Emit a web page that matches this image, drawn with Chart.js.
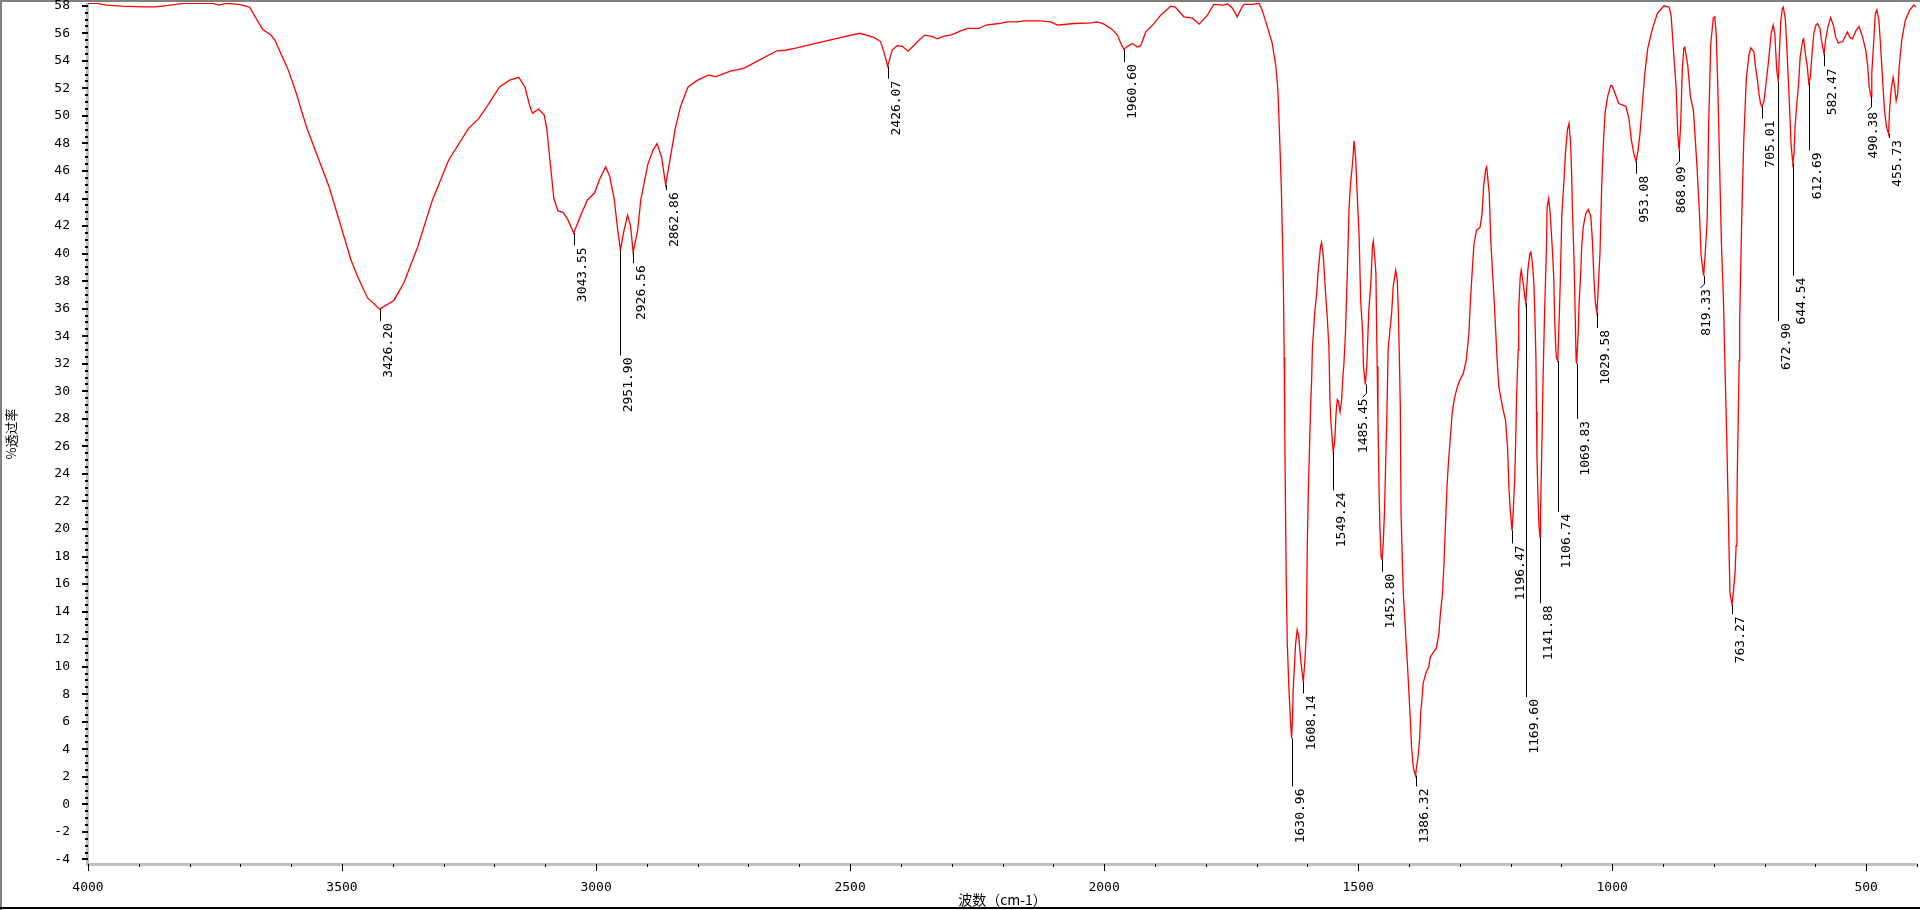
<!DOCTYPE html>
<html>
<head>
<meta charset="utf-8">
<title>IR</title>
<script src="https://cdn.jsdelivr.net/npm/chart.js@4.4.1/dist/chart.umd.min.js"></script>
<style>
html, body { margin: 0; padding: 0; background: #fff; }
#wrap { position: relative; width: 1920px; height: 910px; }
</style>
</head>
<body>
<div id="wrap"><canvas id="ir"></canvas></div>
<script>
// spectrum (cm-1 / %T)
var wavenumbers = [
    4000, 3982, 3964, 3933, 3893, 3868, 3833, 3813, 3753, 3743, 3728, 3703,
    3682, 3667, 3656, 3640, 3632, 3622, 3607, 3592, 3580, 3569, 3525, 3482,
    3469, 3450, 3426, 3398, 3378, 3351, 3322, 3290, 3251, 3231, 3211, 3190,
    3170, 3152, 3140, 3130, 3125, 3113, 3102, 3097, 3090, 3083, 3075, 3065,
    3056, 3044, 3030, 3017, 3003, 2993, 2981, 2973, 2964, 2958, 2952, 2946,
    2938, 2932, 2927, 2918, 2912, 2898, 2888, 2880, 2871, 2863, 2856, 2844,
    2834, 2819, 2800, 2779, 2764, 2734, 2709, 2679, 2644, 2628, 2609, 2568,
    2528, 2481, 2453, 2440, 2433, 2426, 2423, 2417, 2407, 2397, 2386, 2374,
    2361, 2353, 2338, 2328, 2315, 2302, 2282, 2269, 2246, 2233, 2207, 2190,
    2171, 2158, 2125, 2105, 2092, 2079, 2059, 2026, 2013, 2000, 1984, 1974,
    1967, 1961, 1954, 1944, 1935, 1928, 1918, 1902, 1889, 1869, 1860, 1843,
    1826, 1813, 1797, 1784, 1764, 1757, 1747, 1738, 1730, 1725, 1708, 1695,
    1689, 1679, 1669, 1662, 1658, 1655, 1651, 1649, 1647, 1645.5, 1644.5, 1643,
    1641.5, 1639.5, 1636, 1633, 1631, 1629, 1628, 1625, 1623, 1620, 1617, 1612.5,
    1608, 1605, 1602, 1600, 1598, 1595.5, 1593.5, 1591.5, 1590, 1588, 1585.5, 1581.5,
    1579, 1574, 1572, 1568.5, 1564, 1560.5, 1557.5, 1555.5, 1553.5, 1549, 1546, 1543.5,
    1541, 1539, 1535.5, 1532.5, 1530.5, 1528, 1525, 1521, 1518, 1515, 1511, 1508,
    1505, 1501, 1498, 1495, 1491, 1489.5, 1486, 1483, 1479, 1475, 1472, 1470,
    1468, 1465, 1464, 1462.5, 1461, 1459, 1457, 1454.5, 1452.8, 1450.5, 1448, 1446,
    1444, 1442.5, 1441, 1438, 1434, 1431, 1426, 1423, 1421, 1419, 1417, 1415.5,
    1413, 1411, 1408, 1405.5, 1403, 1401, 1399, 1397, 1395, 1391, 1387, 1385,
    1382, 1379, 1377, 1374, 1372, 1367, 1361, 1358, 1351, 1346, 1341, 1338,
    1334, 1331, 1328, 1325, 1322, 1318, 1315, 1311, 1305, 1300, 1293, 1287,
    1282, 1279, 1275, 1272, 1267, 1260, 1256, 1253, 1249, 1247, 1242, 1239,
    1236, 1233, 1229, 1226, 1223, 1216, 1213, 1210, 1206, 1203, 1200, 1197,
    1195, 1192, 1190, 1188, 1185, 1184, 1181, 1179, 1175, 1172, 1170, 1166,
    1162, 1160, 1157, 1154, 1152, 1150, 1149, 1148, 1146, 1144, 1142, 1141,
    1140, 1138, 1136, 1133, 1131, 1129, 1128, 1125, 1122, 1118, 1115, 1113.5,
    1112, 1110, 1107, 1104.5, 1102, 1099, 1095, 1092, 1088, 1085, 1082, 1080,
    1078, 1075, 1073, 1071, 1070, 1067, 1065, 1062, 1060, 1057, 1052, 1047,
    1042, 1039, 1036, 1033, 1030, 1028, 1024, 1021, 1019, 1017, 1014, 1009,
    1003, 1000, 993, 987, 973, 967, 962, 957, 953, 949, 945, 940,
    936, 930, 921, 911, 898, 888, 884, 879, 874, 871, 868, 865,
    862, 859, 857, 851, 846, 840, 833, 828, 825, 820, 817, 813,
    810, 806, 801, 798, 795, 792, 788, 785, 781, 778, 775, 772,
    770, 768, 764, 761, 758, 756, 754.5, 753.5, 752, 750, 749, 746,
    744, 741, 736, 731, 727, 721, 718, 714, 711, 708, 705, 701,
    698, 692, 687, 683, 680, 676, 673, 671, 668, 665, 663, 659,
    656, 653, 650, 648, 644.5, 642, 640, 636, 633, 630, 625, 623,
    619, 616, 613, 610, 607, 603, 599, 596, 591, 588, 583, 580,
    575, 570, 564, 560, 555, 546, 537, 532, 527, 520, 514, 507,
    501, 497, 494, 490.5, 489, 485, 482, 479, 475, 472, 468, 464,
    460, 456, 454, 451, 447, 444, 441, 438, 435, 430, 423, 414,
    406, 402
];
var transmittance = [
    58.17, 58.17, 58.05, 57.97, 57.92, 57.92, 58.07, 58.17, 58.17, 58.05, 58.17, 58.10,
    57.90, 56.95, 56.28, 55.87, 55.50, 54.66, 53.45, 51.88, 50.40, 49.10, 44.80, 39.50,
    38.30, 36.80, 35.97, 36.60, 37.90, 40.50, 43.90, 46.80, 49.10, 49.80, 50.90, 52.10,
    52.60, 52.80, 52.10, 50.66, 50.20, 50.50, 50.06, 49.10, 46.50, 44.00, 43.10, 43.00,
    42.50, 41.50, 42.80, 43.90, 44.40, 45.40, 46.30, 45.60, 43.90, 41.90, 40.25, 41.50,
    42.80, 42.00, 40.10, 41.70, 43.90, 46.50, 47.50, 48.00, 47.00, 45.00, 46.50, 49.10,
    50.66, 52.10, 52.60, 52.96, 52.85, 53.27, 53.45, 54.05, 54.73, 54.77, 54.90, 55.26,
    55.62, 56.00, 55.70, 55.40, 54.60, 53.60, 54.00, 54.80, 55.10, 55.05, 54.70, 55.13,
    55.62, 55.87, 55.75, 55.60, 55.80, 55.87, 56.18, 56.35, 56.35, 56.60, 56.71, 56.83,
    56.83, 56.90, 56.90, 56.83, 56.60, 56.64, 56.71, 56.76, 56.83, 56.66, 56.28, 55.87,
    55.26, 54.82, 55.05, 55.26, 55.00, 55.10, 56.10, 56.70, 57.30, 57.97, 57.90, 57.20,
    57.10, 56.66, 57.30, 58.10, 58.05, 58.15, 57.80, 57.20, 57.80, 58.10, 58.10, 58.17,
    57.70, 56.50, 55.26, 53.60, 51.90, 49.00, 44.50, 41.20, 37.40, 32.50, 27.50, 21.60,
    16.30, 11.70, 8.20, 6.00, 4.80, 6.40, 8.20, 10.30, 11.70, 12.66, 12.20, 10.30,
    8.90, 10.30, 12.40, 19.00, 22.80, 26.20, 29.00, 30.80, 33.20, 34.20, 35.70, 37.10,
    38.60, 40.50, 40.80, 39.80, 37.10, 35.20, 33.20, 29.40, 27.70, 25.60, 26.40, 28.40,
    29.40, 29.30, 28.50, 29.40, 30.80, 32.00, 34.20, 39.00, 43.20, 45.10, 46.55, 48.20,
    47.00, 43.65, 41.20, 36.60, 34.20, 31.80, 30.50, 31.80, 35.90, 37.80, 40.50, 40.90,
    40.00, 38.60, 35.70, 31.80, 27.90, 23.30, 19.90, 17.90, 17.80, 19.00, 21.40, 24.50,
    27.40, 30.10, 33.00, 34.20, 35.70, 37.60, 38.80, 38.10, 35.90, 32.80, 28.90, 21.10,
    17.70, 15.30, 13.40, 11.70, 10.20, 8.80, 7.35, 5.90, 4.20, 2.60, 2.10, 2.70,
    3.50, 4.70, 6.60, 7.80, 8.80, 9.50, 10.00, 10.70, 11.10, 11.35, 12.40, 13.90,
    15.30, 17.50, 20.40, 23.10, 25.00, 26.90, 28.40, 29.40, 30.30, 30.80, 31.30, 32.30,
    34.20, 36.60, 39.00, 40.70, 41.70, 41.90, 42.90, 44.90, 46.10, 46.30, 44.40, 41.00,
    39.00, 37.10, 34.20, 32.00, 30.30, 28.90, 28.40, 27.90, 26.00, 22.80, 21.10, 19.90,
    21.10, 23.50, 26.20, 29.80, 33.00, 35.90, 38.30, 38.80, 37.80, 36.90, 36.40, 38.80,
    40.00, 40.10, 39.30, 37.80, 35.40, 32.30, 28.50, 25.20, 22.30, 20.20, 19.40, 21.10,
    23.10, 26.70, 31.00, 35.70, 38.30, 41.00, 43.40, 44.00, 42.90, 40.50, 38.30, 35.70,
    34.00, 32.50, 32.20, 35.00, 38.10, 42.90, 45.20, 47.30, 49.00, 49.45, 48.20, 46.10,
    42.90, 39.50, 35.90, 32.30, 32.00, 34.20, 36.40, 38.60, 40.50, 41.90, 42.90, 43.20,
    42.70, 41.00, 38.30, 36.40, 35.70, 37.10, 40.00, 44.40, 46.50, 48.20, 50.20, 51.40,
    52.20, 52.20, 51.50, 50.90, 50.70, 49.80, 48.20, 47.20, 46.70, 47.50, 48.80, 51.10,
    53.00, 54.90, 56.30, 57.45, 58.00, 57.90, 57.30, 54.60, 52.00, 48.80, 47.50, 49.50,
    53.30, 54.90, 55.00, 53.60, 51.40, 50.40, 46.30, 42.80, 39.90, 38.40, 39.90, 42.40,
    49.50, 55.20, 57.10, 57.20, 55.85, 52.00, 45.60, 40.80, 36.70, 31.90, 27.40, 22.30,
    18.50, 15.30, 14.50, 15.60, 16.90, 18.80, 21.30, 24.50, 27.70, 32.20, 35.10, 40.80,
    44.00, 48.20, 52.70, 54.40, 54.95, 54.65, 53.60, 52.60, 51.60, 50.90, 50.66, 51.10,
    52.10, 54.05, 56.00, 56.60, 56.00, 53.30, 52.50, 54.50, 56.95, 57.80, 57.90, 56.95,
    54.80, 52.40, 49.90, 48.00, 46.55, 47.30, 49.20, 51.10, 52.40, 54.30, 55.50, 55.60,
    54.30, 53.60, 52.40, 52.80, 54.30, 56.00, 56.60, 56.70, 56.35, 55.50, 54.50, 55.50,
    56.50, 57.15, 56.50, 55.70, 55.30, 55.40, 56.10, 55.70, 55.60, 56.20, 56.50, 55.70,
    54.80, 53.60, 52.10, 51.40, 53.10, 55.50, 57.45, 57.70, 56.95, 55.30, 52.80, 50.40,
    49.20, 48.70, 50.40, 51.90, 52.80, 52.10, 51.10, 51.60, 53.60, 55.50, 56.95, 57.70,
    58.05, 57.90
];

// peak picks: wavenumber and the %T where its leader line stops
var peakWn = [3426.20, 3043.55, 2951.90, 2926.56, 2862.86, 2426.07, 1960.60, 1630.96,
    1608.14, 1549.24, 1485.45, 1452.80, 1386.32, 1196.47, 1169.60, 1141.88, 1106.74,
    1069.83, 1029.58, 953.08, 868.09, 819.33, 763.27, 705.01, 672.90, 644.54, 612.69,
    582.47, 490.38, 455.73];
var peakLabelEnd = [35.1, 40.6, 32.6, 39.3, 44.6, 52.7, 53.9, 1.3,
    8.06, 22.8, 29.85, 16.9, 1.3, 18.95, 7.8, 14.6, 21.25,
    28.0, 34.6, 45.8, 46.7, 37.8, 13.8, 49.8, 35.1, 38.4, 47.5,
    53.6, 50.66, 48.4];
var hookedPeaks = [1485.45, 868.09, 819.33, 490.38];

var xTickValues = [4000, 3500, 3000, 2500, 2000, 1500, 1000, 500];
var yTickValues = [-4, -2, 0, 2, 4, 6, 8, 10, 12, 14, 16, 18, 20, 22, 24, 26, 28, 30,
    32, 34, 36, 38, 40, 42, 44, 46, 48, 50, 52, 54, 56, 58];

var monoFont = "'DejaVu Sans Mono', 'Liberation Mono', monospace";
var cjkFont = "'Noto Sans CJK SC', sans-serif";

var points = [];
for (var i = 0; i < wavenumbers.length; i++) {
    points.push({x: wavenumbers[i], y: transmittance[i]});
}

function valueAt(w) {
    var best = 0;
    for (var i = 1; i < wavenumbers.length; i++) {
        if (Math.abs(wavenumbers[i] - w) < Math.abs(wavenumbers[best] - w)) best = i;
    }
    return transmittance[best];
}

var decor = {
    id: 'decor',
    beforeDraw: function (chart) {
        var ctx = chart.ctx;
        ctx.save();
        ctx.fillStyle = '#fff';
        ctx.fillRect(0, 0, chart.width, chart.height);
        // window frame
        ctx.fillStyle = '#808080';
        ctx.fillRect(0, 0, chart.width, 2);
        ctx.fillRect(0, 0, 2, chart.height);
        ctx.fillStyle = '#000';
        ctx.fillRect(0, chart.height - 3, chart.width, 2);
        ctx.restore();
    },
    beforeDatasetsDraw: function (chart) {
        var ctx = chart.ctx;
        var a = chart.chartArea;
        var xs = chart.scales.x, ys = chart.scales.y;
        ctx.save();
        // grey axis bars
        ctx.fillStyle = '#c0c0c0';
        ctx.fillRect(a.left - 2, a.top, 3, a.bottom - a.top);
        ctx.fillRect(a.left - 2, a.bottom - 2, a.right - a.left + 2, 3);
        ctx.fillStyle = '#000';
        // y ticks every 0.5
        for (var v = -4; v <= 58; v += 0.5) {
            var py = Math.round(ys.getPixelForValue(v));
            var len = (v % 2 === 0) ? 6 : 3;
            ctx.fillRect(a.left - len, py - 1, len, 2);
        }
        // x ticks every 100
        for (var w = 400; w <= 4000; w += 100) {
            var px = Math.round(xs.getPixelForValue(w));
            var tl = (w % 500 === 0) ? 7 : 3;
            ctx.fillRect(px, a.bottom - 1, 1, tl);
        }
        ctx.restore();
    },
    afterDatasetsDraw: function (chart) {
        var ctx = chart.ctx;
        var xs = chart.scales.x, ys = chart.scales.y;
        ctx.save();
        ctx.strokeStyle = '#000';
        ctx.fillStyle = '#000';
        ctx.lineWidth = 1;
        ctx.font = '13px ' + monoFont;
        for (var i = 0; i < peakWn.length; i++) {
            var px = Math.round(xs.getPixelForValue(peakWn[i])) + 0.5;
            var y0 = ys.getPixelForValue(valueAt(peakWn[i]));
            var y1 = ys.getPixelForValue(peakLabelEnd[i]);
            ctx.beginPath();
            ctx.moveTo(px, y0);
            ctx.lineTo(px, y1);
            var tx = px + 8;
            var ty = y1 + 2;
            if (hookedPeaks.indexOf(peakWn[i]) >= 0) {
                ctx.lineTo(px - 4, y1 + 4);
                tx = peakWn[i] === 1485.45 ? px - 3 : px + 2;
                ty = y1 + 5;
            }
            ctx.stroke();
            ctx.save();
            ctx.translate(tx, ty);
            ctx.rotate(-Math.PI / 2);
            ctx.textAlign = 'right';
            ctx.textBaseline = 'middle';
            ctx.fillText(peakWn[i].toFixed(2), 0, 0);
            ctx.restore();
        }
        ctx.restore();
    }
};

var chart = new Chart(document.getElementById('ir'), {
    type: 'line',
    data: {
        datasets: [{
            label: 'IR',
            data: points,
            borderColor: '#ff0000',
            borderWidth: 1.3,
            pointRadius: 0,
            tension: 0,
            fill: false
        }]
    },
    options: {
        responsive: true,
        maintainAspectRatio: false,
        animation: false,
        parsing: false,
        layout: {padding: {left: 0, top: 3, right: 3, bottom: 0}},
        plugins: {legend: {display: false}, tooltip: {enabled: false}},
        scales: {
            x: {
                type: 'linear',
                reverse: true,
                min: 400,
                max: 4000,
                grid: {display: false},
                border: {display: false},
                afterBuildTicks: function (scale) {
                    scale.ticks = xTickValues.map(function (v) { return {value: v}; });
                },
                afterFit: function (scale) {
                    scale.height = 45;
                    scale.paddingLeft = 0;
                    scale.paddingRight = 0;
                },
                ticks: {
                    autoSkip: false,
                    maxRotation: 0,
                    minRotation: 0,
                    padding: 7,
                    color: '#000',
                    font: {family: monoFont, size: 13},
                    callback: function (v) { return String(v); }
                },
                title: {
                    display: true,
                    text: '波数（cm-1）',
                    color: '#000',
                    font: {family: cjkFont, size: 14},
                    padding: {top: 0, bottom: 2}
                }
            },
            y: {
                type: 'linear',
                min: -4.4,
                max: 58.2,
                grid: {display: false},
                border: {display: false},
                afterBuildTicks: function (scale) {
                    scale.ticks = yTickValues.map(function (v) { return {value: v}; });
                },
                afterFit: function (scale) {
                    scale.width = 88;
                    scale.paddingTop = 0;
                    scale.paddingBottom = 0;
                },
                ticks: {
                    autoSkip: false,
                    padding: 10,
                    color: '#000',
                    font: {family: monoFont, size: 13},
                    callback: function (v) { return String(v); }
                },
                title: {
                    display: true,
                    text: '%透过率',
                    color: '#000',
                    font: {family: cjkFont, size: 13},
                    padding: {top: 3, bottom: 0}
                }
            }
        }
    },
    plugins: [decor]
});
</script>
</body>
</html>
